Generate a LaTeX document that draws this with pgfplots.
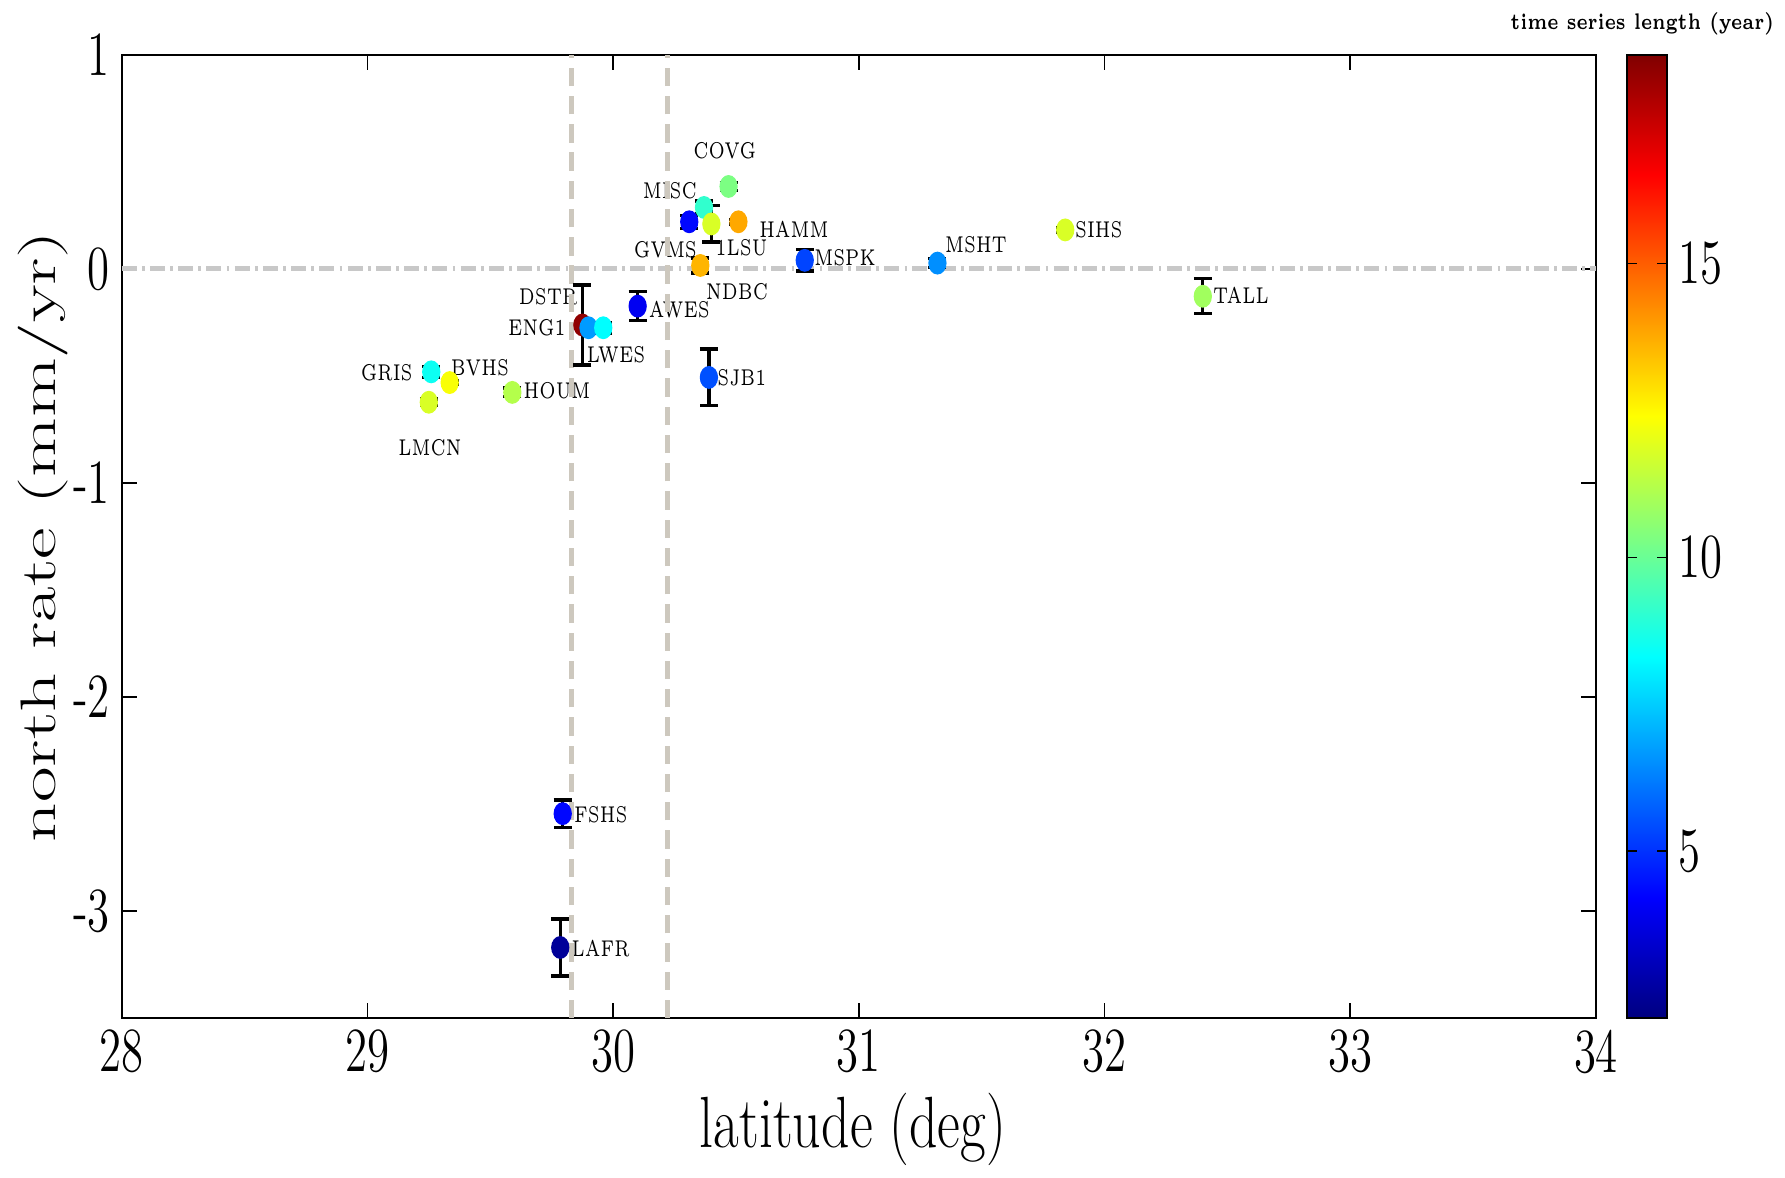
\documentclass[border=0pt]{standalone}
\usepackage{pgfplots}
\pgfplotsset{compat=1.18}
\usepackage{pgfplotstable}
\usepackage{graphicx}
\newcommand{\vs}[2][1.4]{\scalebox{1}[#1]{#2}}
\definecolor{vline}{RGB}{205,200,190}
\definecolor{hline}{RGB}{200,200,200}

\pgfplotstableread{
x y e c
29.875 -0.262 0.187 18.3
29.90 -0.275 0.02 6.7
29.96 -0.275 0.025 8.3
30.47 0.385 0.02 10.3
30.37 0.287 0.03 9.1
30.31 0.22 0.03 4.3
30.40 0.21 0.085 11.8
30.51 0.22 0.01 13.8
30.355 0.016 0.035 13.6
30.78 0.04 0.05 5.3
31.32 0.027 0.02 6.5
31.84 0.182 0.01 11.8
32.40 -0.128 0.082 10.9
30.10 -0.174 0.068 4.0
30.39 -0.507 0.132 5.5
29.59 -0.577 0.02 11.2
29.26 -0.481 0.025 8.5
29.335 -0.531 0.01 12.3
29.25 -0.623 0.015 11.8
29.795 -2.545 0.064 4.3
29.785 -3.17 0.133 2.57
}\stations

\begin{document}
\begin{tikzpicture}
\begin{axis}[
  scale only axis, width=443.7pt, height=289.9pt,
  xmin=28, xmax=34, ymin=-3.5, ymax=1,
  xtick={28,29,30,31,32,33,34},
  xticklabels={\vs{28},\vs{29},\vs{30},\vs{31},\vs{32},\vs{33},\vs{34}},
  ytick={-3,-2,-1,0,1},
  yticklabels={\vs{-3},\vs{-2},\vs{-1},\vs{0},\vs{1}},
  tick label style={font=\fontsize{13.5}{14}\selectfont},
  tick align=inside, major tick length=4.5pt,
  tick style={black, line width=0.5pt},
  axis line style={line width=0.6pt},
  xlabel={\vs[1.3]{latitude (deg)}},
  ylabel={\scalebox{1.55}[1]{north rate (mm/yr)}},
  xlabel style={font=\fontsize{16.8}{17}\selectfont, at={(axis description cs:0.496,-0.116)}, anchor=center},
  ylabel style={font=\fontsize{15}{16}\selectfont, at={(axis description cs:-0.0536,0.5)}, anchor=center, rotate=0},
  colorbar, colormap/jet,
  point meta min=2.16, point meta max=18.55,
  colorbar style={
    scale only axis, width=12pt, height=289.9pt,
    at={(parent axis.north east)}, anchor=north west, xshift=0.8pt,
    ytick={5,10,15}, yticklabels={\vs{5},\vs{10},\vs{15}},
    yticklabel style={font=\fontsize{13.5}{14}\selectfont},
    tick align=inside, major tick length=3pt,
    tick style={black, line width=0.5pt},
    axis line style={line width=0.6pt},
    title={\vs{\bfseries time series length (year)}},
    title style={font=\fontsize{4.85}{5.5}\selectfont, at={(0.5,1)}, anchor=south, yshift=-3.5pt, xshift=-1.4pt},
  },
  clip=false,
]
\path (rel axis cs:-0.0825,-0.1636) rectangle (rel axis cs:1.1245,1.0569);

\begin{scope}[every node/.style={font=\fontsize{4.8}{5}\selectfont, inner sep=0pt}]
\node at (axis cs:30.454,0.550) {\vs[1.43]{COVG}};
\node at (axis cs:30.231,0.365) {\vs[1.43]{MISC}};
\node at (axis cs:30.736,0.185) {\vs[1.43]{HAMM}};
\node at (axis cs:30.523,0.101) {\vs[1.43]{1LSU}};
\node at (axis cs:30.213,0.090) {\vs[1.43]{GVMS}};
\node at (axis cs:30.944,0.053) {\vs[1.43]{MSPK}};
\node at (axis cs:31.477,0.111) {\vs[1.43]{MSHT}};
\node at (axis cs:31.977,0.185) {\vs[1.43]{SIHS}};
\node at (axis cs:30.505,-0.106) {\vs[1.43]{NDBC}};
\node at (axis cs:29.736,-0.132) {\vs[1.43]{DSTR}};
\node at (axis cs:29.690,-0.275) {\vs[1.43]{ENG1}};
\node at (axis cs:30.270,-0.190) {\vs[1.43]{AWES}};
\node at (axis cs:30.012,-0.402) {\vs[1.43]{LWES}};
\node at (axis cs:29.079,-0.487) {\vs[1.43]{GRIS}};
\node at (axis cs:29.458,-0.460) {\vs[1.43]{BVHS}};
\node at (axis cs:29.772,-0.571) {\vs[1.43]{HOUM}};
\node at (axis cs:29.255,-0.836) {\vs[1.43]{LMCN}};
\node at (axis cs:32.555,-0.122) {\vs[1.43]{TALL}};
\node at (axis cs:30.524,-0.508) {\vs[1.43]{SJB1}};
\node at (axis cs:29.950,-2.550) {\vs[1.43]{FSHS}};
\node at (axis cs:29.950,-3.175) {\vs[1.43]{LAFR}};
\end{scope}

\addplot[draw=hline, line width=1.5pt, dash pattern=on 4.5pt off 1.6pt on 0.8pt off 1.6pt, forget plot] coordinates {(28,0) (34,0)};
\addplot[draw=vline, line width=1.5pt, dash pattern=on 5.5pt off 3pt, forget plot] coordinates {(29.83,-3.5) (29.83,1)};
\addplot[draw=vline, line width=1.5pt, dash pattern=on 5.5pt off 3pt, forget plot] coordinates {(30.22,-3.5) (30.22,1)};

\addplot[scatter, only marks, mark=*, mark size=2.55pt,
  mark options={yscale=1.27},
  scatter/use mapped color={draw=mapped color, fill=mapped color},
  point meta=explicit,
  error bars/.cd, y dir=both, y explicit,
  error bar style={black, line width=1pt},
  error mark options={black, rotate=90, mark size=2.7pt, line width=1pt}]
  table[x=x, y=y, y error=e, meta=c] {\stations};
\end{axis}
\end{tikzpicture}
\end{document}
